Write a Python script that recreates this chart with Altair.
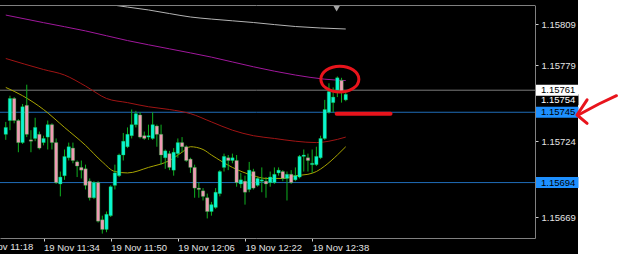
import altair as alt
import pandas as pd

# ---------------- data ----------------
first_candle = "2018-11-19 11:25"   # one-minute candles, 11:25 ... 12:46
opens = [1.15729, 1.15739, 1.15755, 1.15739, 1.15723, 1.15750, 1.15725, 1.15726, 1.15729, 1.15723,
         1.15727, 1.15736, 1.15723, 1.15693, 1.15699, 1.15712, 1.15719, 1.15709, 1.15705, 1.15704,
         1.15695, 1.15683, 1.15694, 1.15667, 1.15660, 1.15670, 1.15692, 1.15699, 1.15714, 1.15720,
         1.15728, 1.15736, 1.15743, 1.15728, 1.15727, 1.15726, 1.15735, 1.15729, 1.15712, 1.15715,
         1.15703, 1.15715, 1.15723, 1.15720, 1.15711, 1.15705, 1.15690, 1.15688, 1.15683, 1.15673,
         1.15676, 1.15686, 1.15705, 1.15712, 1.15710, 1.15710, 1.15693, 1.15695, 1.15689, 1.15702,
         1.15692, 1.15695, 1.15695, 1.15694, 1.15694, 1.15701, 1.15702, 1.15697, 1.15700, 1.15696,
         1.15698, 1.15713, 1.15712, 1.15707, 1.15707, 1.15712, 1.15726, 1.15745, 1.15752, 1.15761,
         1.15768, 1.15754]
closes = [1.15734, 1.15755, 1.15739, 1.15723, 1.15749, 1.15729, 1.15724, 1.15734, 1.15719, 1.15726,
          1.15736, 1.15723, 1.15694, 1.15698, 1.15713, 1.15720, 1.15710, 1.15706, 1.15703, 1.15692,
          1.15683, 1.15694, 1.15666, 1.15660, 1.15671, 1.15691, 1.15701, 1.15714, 1.15724, 1.15729,
          1.15736, 1.15744, 1.15727, 1.15726, 1.15728, 1.15736, 1.15729, 1.15714, 1.15717, 1.15705,
          1.15716, 1.15723, 1.15720, 1.15710, 1.15705, 1.15690, 1.15689, 1.15684, 1.15673, 1.15678,
          1.15687, 1.15702, 1.15713, 1.15710, 1.15712, 1.15694, 1.15696, 1.15687, 1.15703, 1.15690,
          1.15697, 1.15696, 1.15693, 1.15698, 1.15700, 1.15703, 1.15697, 1.15700, 1.15694, 1.15699,
          1.15713, 1.15714, 1.15710, 1.15708, 1.15713, 1.15726, 1.15747, 1.15760, 1.15756, 1.15770,
          1.15760, 1.15758]
highs = [1.15738, 1.15757, 1.15756, 1.15740, 1.15751, 1.15765, 1.15732, 1.15741, 1.15731, 1.15728,
         1.15739, 1.15737, 1.15726, 1.15702, 1.15718, 1.15723, 1.15723, 1.15710, 1.15710, 1.15707,
         1.15697, 1.15695, 1.15695, 1.15670, 1.15673, 1.15692, 1.15707, 1.15715, 1.15730, 1.15734,
         1.15747, 1.15746, 1.15745, 1.15731, 1.15736, 1.15745, 1.15736, 1.15736, 1.15718, 1.15717,
         1.15719, 1.15726, 1.15727, 1.15721, 1.15712, 1.15707, 1.15694, 1.15690, 1.15686, 1.15680,
         1.15690, 1.15703, 1.15715, 1.15714, 1.15715, 1.15714, 1.15701, 1.15699, 1.15709, 1.15704,
         1.15698, 1.15705, 1.15698, 1.15702, 1.15705, 1.15705, 1.15703, 1.15702, 1.15703, 1.15705,
         1.15714, 1.15718, 1.15715, 1.15718, 1.15720, 1.15728, 1.15754, 1.15766, 1.15763, 1.15771,
         1.15770, 1.15761]
lows = [1.15725, 1.15732, 1.15737, 1.15716, 1.15722, 1.15727, 1.15716, 1.15724, 1.15718, 1.15721,
        1.15718, 1.15718, 1.15693, 1.15684, 1.15696, 1.15710, 1.15708, 1.15698, 1.15697, 1.15689,
        1.15681, 1.15682, 1.15665, 1.15657, 1.15658, 1.15669, 1.15689, 1.15698, 1.15710, 1.15719,
        1.15726, 1.15734, 1.15726, 1.15725, 1.15725, 1.15725, 1.15720, 1.15707, 1.15704, 1.15703,
        1.15699, 1.15712, 1.15716, 1.15709, 1.15701, 1.15683, 1.15683, 1.15681, 1.15668, 1.15670,
        1.15675, 1.15684, 1.15702, 1.15703, 1.15708, 1.15691, 1.15690, 1.15678, 1.15687, 1.15689,
        1.15691, 1.15687, 1.15683, 1.15691, 1.15693, 1.15699, 1.15695, 1.15681, 1.15693, 1.15695,
        1.15697, 1.15702, 1.15702, 1.15701, 1.15706, 1.15711, 1.15725, 1.15744, 1.15745, 1.15756,
        1.15752, 1.15753]

# moving averages (time of day, price)
ma_fast_t = ["11:25", "11:29", "11:34", "11:39", "11:44", "11:48", "11:51", "11:54", "11:59", "12:04",
             "12:07", "12:09", "12:12", "12:14", "12:19", "12:24", "12:27", "12:31", "12:34", "12:37",
             "12:39", "12:41", "12:44", "12:46"]
ma_fast_v = [1.15763, 1.15757, 1.15747, 1.15734, 1.15721, 1.15709, 1.15702, 1.15701, 1.15705, 1.15710,
             1.15716, 1.15720, 1.15718, 1.15714, 1.15705, 1.15699, 1.15697, 1.15697, 1.15699, 1.15700,
             1.15702, 1.15706, 1.15714, 1.15720]
ma_mid_t = ["11:25", "11:34", "11:39", "11:44", "11:49", "11:54", "11:59", "12:04", "12:09", "12:14",
            "12:19", "12:24", "12:29", "12:34", "12:39", "12:42", "12:46"]
ma_mid_v = [1.15784, 1.15776, 1.15772, 1.15764, 1.15755, 1.15752, 1.15749, 1.15747, 1.15744, 1.15738,
            1.15732, 1.15728, 1.15726, 1.15724, 1.15723, 1.15724, 1.15727]
ma_slow_t = ["11:25", "11:34", "11:44", "11:54", "12:04", "12:14", "12:24", "12:34", "12:41", "12:46"]
ma_slow_v = [1.158155, 1.15810, 1.15804, 1.15797, 1.15791, 1.15785, 1.15778, 1.15772, 1.15769, 1.15768]
ma_long_t = ["11:51", "11:54", "11:59", "12:04", "12:09", "12:14", "12:24", "12:34", "12:46"]
ma_long_v = [1.158226, 1.158213, 1.158192, 1.158166, 1.158141, 1.158126, 1.158101, 1.158072, 1.158054]
ma_names = ["fast", "mid", "slow", "long"]
ma_colors = ["#a8a400", "#a01414", "#a0189c", "#b4b4b4"]

# horizontal levels and price tags
level_prices = [1.15761, 1.15745, 1.15694]
level_colors = ["#7a7a7a", "#1f6cb8", "#1f6cb8"]
tag_prices = [1.15754, 1.15761, 1.15745, 1.15694]
tag_bg = ["#000000", "#ffffff", "#1e90ff", "#1e90ff"]
tag_fg = ["#ffffff", "#000000", "#000000", "#000000"]
axis_prices = [1.15809, 1.15779, 1.15724, 1.15669]
time_ticks = ["11:34", "11:50", "12:06", "12:22", "12:38"]
hidden_tick = "11:18"

# hand-drawn red annotations (time, price)
circle_t, circle_p = "12:44:36", 1.15769
under_t, under_t2, under_p = "12:43:50", "12:56:40", 1.15744
arrow_seg = ["shaft", "shaft", "shaft", "head", "head", "head"]
arrow_t = ["13:50:30", "13:46:18", "13:41:24", "13:43:30", "13:41:06", "13:43:30"]
arrow_p = [1.15757, 1.15751, 1.15743, 1.15754, 1.15743, 1.15737]
marker_t, marker_p = "12:43:50", 1.15820

# ---------------- build tables ----------------
DAY = "2018-11-19T"
def ts(hm):
    s = hm if hm.count(":") == 2 else hm + ":00"
    return DAY + s + "Z"

times = [t.strftime("%Y-%m-%dT%H:%M:%SZ") for t in pd.date_range(first_candle, periods=len(opens), freq="min")]
candles = pd.DataFrame({"t": times, "open": opens, "high": highs, "low": lows, "close": closes})
candles["dir"] = ["up" if c >= o else "down" for o, c in zip(opens, closes)]

ma_rows = []
for name, tt, vv in zip(ma_names, [ma_fast_t, ma_mid_t, ma_slow_t, ma_long_t],
                        [ma_fast_v, ma_mid_v, ma_slow_v, ma_long_v]):
    for a, b in zip(tt, vv):
        ma_rows.append({"t": ts(a), "v": b, "ma": name})
ma_df = pd.DataFrame(ma_rows)

levels = pd.DataFrame({"p": level_prices, "c": level_colors})
tags = pd.DataFrame({"p": tag_prices, "bg": tag_bg, "fg": tag_fg})
arrow = pd.DataFrame({"t": [ts(a) for a in arrow_t], "p": arrow_p, "seg": arrow_seg,
                      "idx": list(range(len(arrow_t)))})

FONT = "Liberation Sans"
FS = 9.5
LABEL = "#e4e4e4"
FRAME = "#808080"
PLOT_W, PLOT_H = 535, 233

x_scale = alt.Scale(type="utc", domain=[ts("11:24:49"), ts("13:29:54")])
y_scale = alt.Scale(domain=[1.156538, 1.158228], zero=False, nice=False)

def dt(hm):
    h, m = hm.split(":")
    return alt.DateTime(year=2018, month=11, date=19, hours=int(h), minutes=int(m), utc=True)

x_axis = alt.Axis(values=[dt(v) for v in time_ticks], format="%d %b %H:%M", labelAlign="left",
                  labelBaseline="top", labelPadding=1, labelColor=LABEL, labelFont=FONT, labelFontSize=FS,
                  tickColor="#cfcfcf", tickSize=3, domainColor=FRAME, grid=False, title=None,
                  labelFlush=False, labelOverlap=False, zindex=2)
y_axis = alt.Axis(orient="right", values=axis_prices, format=".5f", labelColor=LABEL, labelFont=FONT,
                  labelFontSize=FS, tickColor="#cfcfcf", tickSize=3, labelPadding=3, domainColor=FRAME,
                  grid=False, title=None, labelOverlap=False, zindex=2)

X = alt.X("t:T", scale=x_scale, axis=x_axis)
def Y(field):
    return alt.Y(field, scale=y_scale, axis=y_axis)

# background: black chart area, white strip on the far right
bg = alt.Chart(pd.DataFrame({"a": [0]})).mark_rect(color="#000000", clip=False).encode(
    x=alt.value(0), x2=alt.value(578), y=alt.value(-5), y2=alt.value(249))
top_border = alt.Chart(pd.DataFrame({"a": [0]})).mark_rule(color=FRAME, strokeWidth=1).encode(
    x=alt.value(0), x2=alt.value(PLOT_W), y=alt.value(0.5))

level_lines = alt.Chart(levels).mark_rule(strokeWidth=1).encode(
    y=Y("p:Q"), color=alt.Color("c:N", scale=None))

ma_lines = alt.Chart(ma_df).mark_line(strokeWidth=1, clip=True, interpolate="monotone").encode(
    x=X, y=Y("v:Q"),
    stroke=alt.Stroke("ma:N", scale=alt.Scale(domain=ma_names, range=ma_colors), legend=None),
    detail="ma:N")

wicks = alt.Chart(candles).mark_rule(color="#0fb020", strokeWidth=1).encode(
    x=X, y=Y("low:Q"), y2="high:Q")
bodies = alt.Chart(candles).mark_bar(size=3.4, stroke="#18c040", strokeWidth=0.35).encode(
    x=X, y=Y("open:Q"), y2="close:Q",
    fill=alt.Fill("dir:N", scale=alt.Scale(domain=["up", "down"], range=["#0af5d2", "#f09ab4"]), legend=None))

tag_boxes = alt.Chart(tags).mark_tick(orient="horizontal", size=43, thickness=11, clip=False, opacity=1).encode(
    x=alt.value(557), y=Y("p:Q"), color=alt.Color("bg:N", scale=None))
tag_text = alt.Chart(tags).mark_text(align="left", baseline="middle", font=FONT, fontSize=FS, clip=False).encode(
    x=alt.value(541), y=Y("p:Q"), text=alt.Text("p:Q", format=".5f"),
    color=alt.Color("fg:N", scale=None))

hidden_label = alt.Chart(pd.DataFrame({"t": [ts(hidden_tick)], "s": ["19 Nov " + hidden_tick]})).mark_text(
    align="left", baseline="top", font=FONT, fontSize=FS, color=LABEL, dx=1, dy=4, clip=False).encode(
    x=X, y=alt.value(PLOT_H), text="s:N")

marker = alt.Chart(pd.DataFrame({"t": [ts(marker_t)], "p": [marker_p]})).mark_point(
    shape="triangle-down", filled=True, size=40, color="#a6a6a6", opacity=1).encode(
    x=X, y=Y("p:Q"))

RED = "#e8141c"
ellipse = alt.Chart(pd.DataFrame({"t": [ts(circle_t)], "p": [circle_p]})).mark_point(
    shape="M -1 0 A 1 0.68 0 1 1 1 0 A 1 0.68 0 1 1 -1 0 Z", size=1444, filled=False,
    stroke=RED, strokeWidth=3, opacity=1, clip=False).encode(x=X, y=Y("p:Q"))
underline = alt.Chart(pd.DataFrame({"t": [ts(under_t)], "t2": [ts(under_t2)], "p": [under_p]})).mark_rule(
    color=RED, strokeWidth=4, strokeCap="round", clip=False).encode(
    x=X, x2="t2:T", y=Y("p:Q"))
arrow_lines = alt.Chart(arrow).mark_line(color=RED, strokeWidth=3, strokeCap="round", strokeJoin="round",
                                         clip=False).encode(
    x=X, y=Y("p:Q"), detail="seg:N", order=alt.Order("idx:Q"))

chart = alt.layer(
    bg, level_lines, ma_lines, wicks, bodies, top_border, tag_boxes, tag_text, hidden_label,
    marker, ellipse, underline, arrow_lines
).properties(
    width=PLOT_W, height=PLOT_H,
    autosize=alt.AutoSizeParams(type="none"),
    padding={"left": 0, "top": 5, "right": 90, "bottom": 16},
    background="#ffffff",
).configure_view(stroke=None)

chart.save("out.html", embed_options={"renderer": "svg", "actions": False})
